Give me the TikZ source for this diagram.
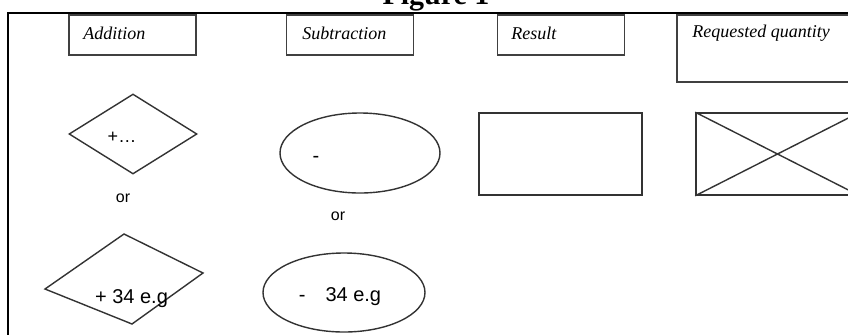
\documentclass[tikz,border=0pt]{standalone}
\usepackage{fontspec}
\setmainfont{Liberation Serif}
\setsansfont{Liberation Sans}
\usepackage{tikz}
\usetikzlibrary{shapes,positioning,calc}

\tikzset{
  legendbox/.style={draw=black!75, line width=0.8pt, minimum width=63.5pt, minimum height=20pt, inner sep=0pt},
  legendtext/.style={anchor=west, inner sep=0pt, font=\fontsize{9}{11}\selectfont\itshape},
  shapeline/.style={draw=black!80, line width=0.7pt, inner sep=0pt},
  shapetext/.style={inner sep=0pt, font=\sffamily\fontsize{10}{12}\selectfont},
  ortext/.style={inner sep=0pt, font=\sffamily\fontsize{8}{10}\selectfont}
}

\begin{document}
\begin{tikzpicture}[x=0.5pt,y=-0.5pt]
    \clip (0,0) rectangle (848,334);
    \fill[white] (0,0) rectangle (848,334);

    % Title and frame
    \node[font=\bfseries\fontsize{15}{18}\selectfont, anchor=base, inner sep=0pt] (title) at (436,4) {Figure 1};
    \draw[line width=1.3pt] (8,345) -- (8,13) -- (870,13);

    % Legend boxes
    \node[legendbox] (addbox) at (132.5,35) {};
    \node[legendbox] (subbox) at (350,35) {};
    \node[legendbox] (resbox) at (561,35) {};
    \node[legendbox, minimum width=95pt, minimum height=33.5pt] (reqbox) at (772,48.5) {};

    \node[legendtext] (addlabel) at (83,33) {Addition};
    \node[legendtext] (sublabel) at (302,33) {Subtraction};
    \node[legendtext] (reslabel) at (511,33) {Result};
    \node[legendtext] (reqlabel) at (692,33) {Requested quantity};

    % Addition
    \node[shapeline, diamond, minimum width=64pt, minimum height=40pt] (adddiamond) at (133,134) {};
    \node[shapetext, font=\sffamily\fontsize{9}{11}\selectfont] (addplus) at (122,137) {+…};
    \node[ortext] (addor) at (123,198) {or};
    \coordinate (qtop) at (124,234);
    \coordinate (qright) at (203,273);
    \coordinate (qbottom) at (132,324);
    \coordinate (qleft) at (45,289);
    \draw[black!80, line width=0.7pt] (qtop) -- (qright) -- (qbottom) -- (qleft) -- cycle;
    \node[shapetext] (addexample) at (131.5,299) {+ 34 e.g};

    % Subtraction
    \node[shapeline, ellipse, minimum width=80pt, minimum height=40pt] (subellipse) at (360,153) {};
    \node[shapetext] (subminus) at (316,159) {-};
    \node[ortext] (subor) at (338,216) {or};
    \node[shapeline, ellipse, minimum width=81pt, minimum height=39.5pt] (subellipsetwo) at (344,292.5) {};
    \node[shapetext] (subexample) at (340,297) {-\quad 34 e.g};

    % Result
    \node[shapeline, rectangle, line width=0.8pt, minimum width=81.5pt, minimum height=41pt] (resrect) at (560.5,154) {};

    % Requested quantity
    \node[shapeline, rectangle, line width=0.8pt, minimum width=81.5pt, minimum height=41pt] (reqrect) at (777.5,154) {};
    \draw[black!80, line width=0.7pt] (reqrect.north west) -- (reqrect.south east);
    \draw[black!80, line width=0.7pt] (reqrect.south west) -- (reqrect.north east);
\end{tikzpicture}
\end{document}
